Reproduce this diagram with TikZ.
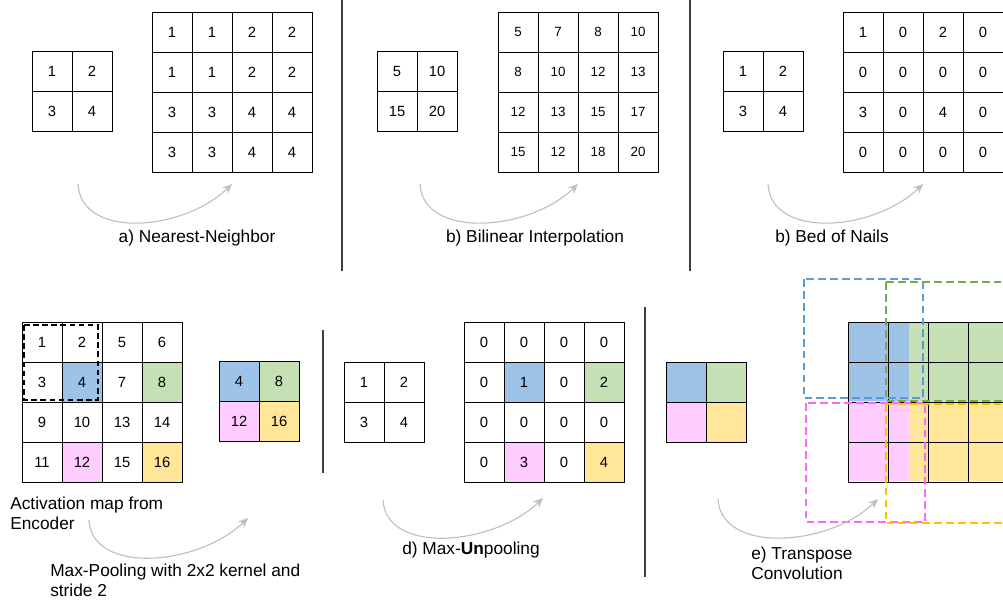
\documentclass[tikz,border=0pt]{standalone}
\usepackage{fontspec}
\setmainfont{Liberation Sans}
\usetikzlibrary{arrows.meta,backgrounds}

\definecolor{cb}{HTML}{9DC3E6}
\definecolor{cg}{HTML}{C5E0B4}
\definecolor{cp}{HTML}{FFCCFF}
\definecolor{cy}{HTML}{FFE699}
\definecolor{db}{HTML}{5B9BD5}
\definecolor{dg}{HTML}{70AD47}
\definecolor{dp}{HTML}{FF66FF}
\definecolor{dy}{HTML}{FFC000}

% grid of cells: [style]{name}{left}{top}{rows}
\newcommand{\cellgrid}[5][cell]{%
  \foreach \row [count=\r] in {#5}
    \foreach \v [count=\c] in \row
      \node[#1] (#2-\r-\c) at ({#3+40*\c-20},{#4+40*\r-20}) {\v};}

\begin{document}
\begin{tikzpicture}[
    x=0.025cm, y=-0.025cm,
    cell/.style={rectangle, draw, line width=0.7pt, minimum size=1cm, inner sep=0pt, font=\fontsize{10.5}{12}\selectfont},
    cellsm/.style={cell, font=\fontsize{9.5}{11}\selectfont},
    lbl/.style={inner sep=0pt, align=left, font=\fontsize{12.3}{14.2}\selectfont},
    flow/.style={draw=black!25, line width=0.8pt, -{Stealth[length=7pt, width=6pt]}},
    divider/.style={draw=black!75, line width=0.9pt},
    win/.style={line width=1.1pt, dash pattern=on 5.5pt off 3pt}
]
    \useasboundingbox (0,0) rectangle (1003,601);
    \clip (0,0) rectangle (1003,601);

    % a) Nearest-Neighbor
    \cellgrid{nni}{32}{51}{{1,2},{3,4}}
    \cellgrid{nno}{152}{12}{{1,1,2,2},{1,1,2,2},{3,3,4,4},{3,3,4,4}}
    \coordinate (nn-from) at (78,184);
    \coordinate (nn-to) at (232,184);
    \draw[flow] (nn-from) .. controls +(3,55) and +(-50,48) .. (nn-to);
    \node[lbl] (nn-lbl) at (197,238) {a) Nearest-Neighbor};

    \coordinate (div1-top) at (342,0);
    \coordinate (div1-bot) at (342,271);
    \draw[divider] (div1-top) -- (div1-bot);

    % b) Bilinear Interpolation
    \cellgrid{bii}{377}{51}{{5,10},{15,20}}
    \cellgrid[cellsm]{bio}{498}{12}{{5,7,8,10},{8,10,12,13},{12,13,15,17},{15,12,18,20}}
    \coordinate (bi-from) at (420,184);
    \coordinate (bi-to) at (578,184);
    \draw[flow] (bi-from) .. controls +(3,55) and +(-50,48) .. (bi-to);
    \node[lbl] (bi-lbl) at (535,238) {b) Bilinear Interpolation};

    \coordinate (div2-top) at (690,0);
    \coordinate (div2-bot) at (690,271);
    \draw[divider] (div2-top) -- (div2-bot);

    % b) Bed of Nails
    \cellgrid{bni}{723}{51}{{1,2},{3,4}}
    \cellgrid{bno}{843}{12}{{1,0,2,0},{0,0,0,0},{3,0,4,0},{0,0,0,0}}
    \coordinate (bn-from) at (768,184);
    \coordinate (bn-to) at (923,184);
    \draw[flow] (bn-from) .. controls +(3,55) and +(-50,48) .. (bn-to);
    \node[lbl] (bn-lbl) at (832,238) {b) Bed of Nails};

    % Max-Pooling
    \cellgrid{am}{22}{322}{{1,2,5,6},{3,4,7,8},{9,10,13,14},{11,12,15,16}}
    \draw[win, line width=1.3pt, dash pattern=on 4pt off 2.5pt] (24,325) rectangle (98,400);
    \cellgrid{mp}{219}{361}{{4,8},{12,16}}
    \node[lbl, anchor=west] (am-lbl) at (10,513) {Activation map from\\Encoder};
    \coordinate (mp-from) at (89,520);
    \coordinate (mp-to) at (248,518);
    \draw[flow] (mp-from) .. controls +(3,55) and +(-50,48) .. (mp-to);
    \node[lbl, anchor=west] (mp-lbl) at (50,580) {Max-Pooling with 2x2 kernel and\\stride 2};

    \coordinate (div3-top) at (323,330);
    \coordinate (div3-bot) at (323,473);
    \draw[divider] (div3-top) -- (div3-bot);

    % d) Max-Unpooling
    \cellgrid{mui}{344}{362}{{1,2},{3,4}}
    \cellgrid{muo}{464}{322}{{0,0,0,0},{0,1,0,2},{0,0,0,0},{0,3,0,4}}
    \coordinate (mu-from) at (383,500);
    \coordinate (mu-to) at (543,498);
    \draw[flow] (mu-from) .. controls +(3,55) and +(-50,48) .. (mu-to);
    \node[lbl] (mu-lbl) at (471,550) {d) Max-\textbf{Un}pooling};

    \coordinate (div4-top) at (645,307);
    \coordinate (div4-bot) at (645,577);
    \draw[divider] (div4-top) -- (div4-bot);

    % e) Transpose Convolution
    \foreach \r in {1,2}
        \foreach \c in {1,2}
            \node[cell] (tci-\r-\c) at ({666+40*\c-20},{362+40*\r-20}) {};
    \fill[cb] (848,322) rectangle (909,401);
    \fill[cg] (909,322) rectangle (1010,401);
    \fill[cp] (848,401) rectangle (909,481);
    \fill[cy] (909,401) rectangle (1010,481);
    \foreach \r in {1,...,4}
        \foreach \c in {1,...,5}
            \node[cell] (tco-\r-\c) at ({848+40*\c-20},{322+40*\r-20}) {};
    \draw[win, draw=db] (804,279) rectangle (923,398);
    \draw[win, draw=dg] (886,282) rectangle (1010,401);
    \draw[win, draw=dp] (806,403) rectangle (925,522);
    \draw[win, draw=dy] (886,404) rectangle (1010,523);
    \coordinate (tc-from) at (718,499);
    \coordinate (tc-to) at (878,499);
    \draw[flow] (tc-from) .. controls +(3,55) and +(-50,48) .. (tc-to);
    \node[lbl, anchor=west] (tc-lbl) at (751,563) {e) Transpose\\Convolution};

    % coloured cells
    \begin{pgfonlayer}{background}
        \foreach \n/\f in {am-2-2/cb, am-2-4/cg, am-4-2/cp, am-4-4/cy,
                           mp-1-1/cb, mp-1-2/cg, mp-2-1/cp, mp-2-2/cy,
                           muo-2-2/cb, muo-2-4/cg, muo-4-2/cp, muo-4-4/cy,
                           tci-1-1/cb, tci-1-2/cg, tci-2-1/cp, tci-2-2/cy}
            \fill[\f] (\n.south west) rectangle (\n.north east);
    \end{pgfonlayer}
\end{tikzpicture}
\end{document}
